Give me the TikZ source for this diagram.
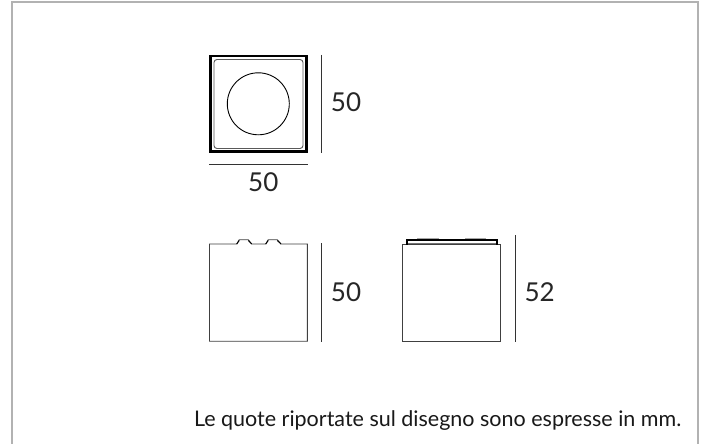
\documentclass[tikz,border=0pt]{standalone}
\usepackage{fontspec}
\setmainfont{Lato}
\tikzset{
  dim/.style={draw=black!80!white,line width=0.9pt},
  body/.style={draw=black!75!white,line width=0.9pt},
  lab/.style={font=\fontsize{26}{28}\selectfont,text=black!85!white,inner sep=0pt},
  note/.style={font=\fontsize{21.5}{24}\selectfont,text=black!90!white,inner sep=0pt}
}
\begin{document}
\begin{tikzpicture}[x=1pt,y=-1pt]
\useasboundingbox (0,0) rectangle (702,444);
\fill[white] (0,0) rectangle (702,444);
\draw[black!30!white,line width=2pt] (12,444) -- (12,2) -- (698,2) -- (698,444);
% top view
\draw[black,line width=2.4pt] (210.5,56) rectangle (306.5,151.5);
\draw[black!65!white,line width=0.9pt,rounded corners=3pt] (214,59.5) rectangle (303,148.5);
\node[draw=black,line width=0.9pt,circle,minimum size=62pt,inner sep=0pt] (disc) at (258.3,103.8) {};
\coordinate (v1a) at (321,55); \coordinate (v1b) at (321,152.7);
\draw[dim] (v1a) -- (v1b);
\coordinate (h1a) at (209.3,164); \coordinate (h1b) at (307.5,164);
\draw[dim] (h1a) -- (h1b);
\node[lab] (t1) at (346,102.5) {50};
\node[lab] (t2) at (263.3,182) {50};
% left side view
\draw[body] (209.5,341.2) -- (209.5,244) -- (236.7,244) -- (239.3,239.7) -- (248.3,239.7) -- (251.7,244) -- (265.7,244) -- (268.3,239.7) -- (277.3,239.7) -- (281,244) -- (307.3,244) -- (307.3,341.2) -- cycle;
\draw[black,line width=0.9pt] (236.7,244) -- (239.3,240.5) (248.3,240.5) -- (251.7,244);
\draw[black,line width=0.9pt] (265.7,244) -- (268.3,240.5) (277.3,240.5) -- (281,244);
\coordinate (v2a) at (321.3,243); \coordinate (v2b) at (321.3,341.5);
\draw[dim] (v2a) -- (v2b);
\node[lab] (t3) at (346,292) {50};
% right side view
\draw[body] (402.7,341.2) -- (402.7,244) -- (500.2,244) -- (500.2,341.2) -- cycle;
\draw[black!55!white,line width=1pt] (407,243.5) -- (496.5,243.5);
\draw[black,line width=1.8pt] (407,244.5) -- (407,240.3) -- (496.7,240.3) -- (496.7,244.5);
\draw[black!35!white,line width=0.8pt] (417,238.8) -- (439,238.8) (465,238.8) -- (486,238.8);
\coordinate (v3a) at (515,235); \coordinate (v3b) at (515,341.5);
\draw[dim] (v3a) -- (v3b);
\node[lab] (t4) at (539.7,292) {52};
\node[note,anchor=base east] (n) at (681.5,426) {Le quote riportate sul disegno sono espresse in mm.};
\end{tikzpicture}
\end{document}
